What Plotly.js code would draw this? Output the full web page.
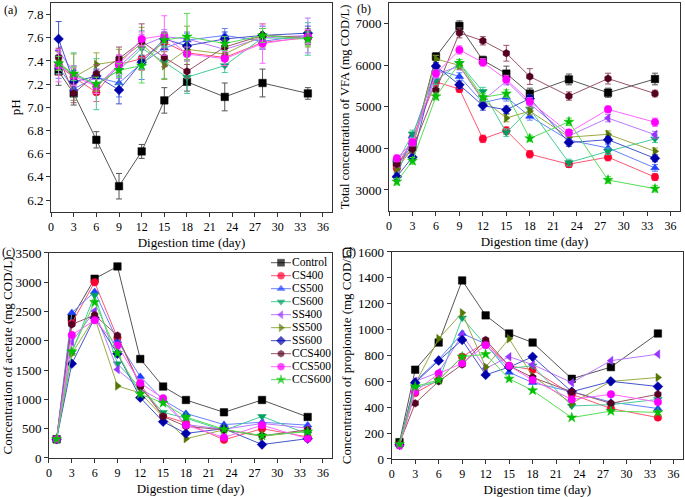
<!DOCTYPE html>
<html><head><meta charset="utf-8">
<script src="https://cdn.plot.ly/plotly-3.0.1.min.js"></script>
<style>html,body{margin:0;padding:0;background:#fff}#chart{width:685px;height:497px}</style>
</head><body><div id="chart"></div>
<script>
const days = [1, 3, 6, 9, 12, 15, 18, 23, 28, 34];
const seriesNames = ['Control','CS400','CS500','CS600','SS400','SS500','SS600','CCS400','CCS500','CCS600'];
const markerColors = ['#000000','#ff0033','#2040ff','#00a060','#9933ff','#557700','#0000aa','#550022','#ff00ff','#00c000'];
const lineColors = ['#555555','#ff5577','#6680ff','#44cc99','#bb77ff','#99aa44','#4455cc','#995566','#ff66ff','#55dd55'];
const markerSymbols = ['square','circle','triangle-up','triangle-down','triangle-left','triangle-right','diamond','hexagon','circle','star'];

// (a) pH
const phControl = [7.31,7.12,6.72,6.32,6.62,7.06,7.22,7.09,7.21,7.12];
const phCS400   = [7.36,7.26,7.13,7.37,7.42,7.56,7.47,7.43,7.56,7.60];
const phCS500   = [7.35,7.16,7.26,7.21,7.38,7.51,7.58,7.62,7.57,7.62];
const phCS600   = [7.37,7.28,7.20,7.32,7.51,7.39,7.26,7.36,7.60,7.59];
const phSS400   = [7.49,7.30,7.18,7.35,7.53,7.61,7.59,7.50,7.60,7.62];
const phSS500   = [7.40,7.26,7.37,7.40,7.55,7.36,7.50,7.46,7.62,7.60];
const phSS600   = [7.59,7.22,7.27,7.15,7.39,7.59,7.53,7.59,7.62,7.64];
const phCCS400  = [7.43,7.12,7.29,7.42,7.57,7.43,7.31,7.52,7.62,7.60];
const phCCS500  = [7.36,7.27,7.18,7.37,7.59,7.62,7.46,7.42,7.55,7.61];
const phCCS600  = [7.38,7.29,7.20,7.32,7.36,7.58,7.61,7.55,7.62,7.59];
const phErrControl = [0.12,0.10,0.07,0.11,0.06,0.11,0.08,0.12,0.12,0.05];
const phErrCS400   = [0.08,0.08,0.08,0.08,0.10,0.08,0.06,0.08,0.06,0.06];
const phErrCS500   = [0.10,0.10,0.06,0.12,0.14,0.08,0.06,0.06,0.06,0.06];
const phErrCS600   = [0.08,0.19,0.22,0.12,0.15,0.14,0.14,0.06,0.10,0.14];
const phErrSS400   = [0.10,0.06,0.06,0.10,0.10,0.06,0.06,0.06,0.10,0.15];
const phErrSS500   = [0.08,0.20,0.10,0.10,0.14,0.12,0.20,0.06,0.10,0.08];
const phErrSS600   = [0.15,0.10,0.06,0.12,0.06,0.06,0.06,0.06,0.06,0.06];
const phErrCCS400  = [0.08,0.08,0.08,0.10,0.15,0.08,0.06,0.06,0.06,0.06];
const phErrCCS500  = [0.14,0.08,0.06,0.08,0.06,0.17,0.06,0.06,0.17,0.06];
const phErrCCS600  = [0.06,0.06,0.06,0.06,0.15,0.06,0.20,0.06,0.06,0.06];

// (b) Total VFA
const vfaControl = [3650,4040,6210,6950,6120,5800,5320,5660,5340,5670];
const vfaCS400   = [3520,4250,5600,5430,4230,4430,3860,3620,3790,3310];
const vfaCS500   = [3350,4300,5900,5730,5100,5230,4770,4200,4010,3530];
const vfaCS600   = [3650,4350,5630,6050,5370,4380,4950,3660,3930,4230];
const vfaSS400   = [3700,4100,5780,5980,5150,5620,5070,4300,4730,4330];
const vfaSS500   = [3500,4000,6150,6000,5180,4730,4900,4270,4340,3930];
const vfaSS600   = [3320,3790,5980,5530,5030,4930,5200,4140,4210,3760];
const vfaCCS400  = [3620,3980,5400,6780,6590,6290,5730,5260,5680,5320];
const vfaCCS500  = [3760,4150,5800,6370,6070,5660,5130,4380,4940,4630];
const vfaCCS600  = [3200,3700,5250,6050,5230,5320,4240,4640,3240,3030];
const vfaErrControl = [80,100,90,120,100,180,130,130,110,140];
const vfaErrCS400   = [80,90,90,80,90,90,90,80,90,80];
const vfaErrCS500   = [80,90,90,90,90,90,90,80,90,80];
const vfaErrCS600   = [80,90,90,90,100,90,90,80,80,90];
const vfaErrSS400   = [80,90,90,90,90,90,90,80,90,80];
const vfaErrSS500   = [80,90,90,90,90,90,90,80,80,80];
const vfaErrSS600   = [80,90,90,90,110,90,90,90,80,80];
const vfaErrCCS400  = [80,90,90,120,100,190,190,100,130,80];
const vfaErrCCS500  = [80,90,90,100,90,100,90,80,80,100];
const vfaErrCCS600  = [80,80,80,90,90,90,80,90,80,80];

// (c) Acetate
const acControl = [320,2390,3060,3270,1690,1220,990,780,990,700];
const acCS400   = [320,2300,3000,2050,1260,720,600,310,500,360];
const acCS500   = [320,2480,2840,2000,1390,990,760,570,610,560];
const acCS600   = [320,1800,2780,1610,1200,780,680,470,710,410];
const acSS400   = [320,1980,2510,1510,1180,960,570,490,590,510];
const acSS500   = [320,1780,2400,1230,1110,700,330,480,370,460];
const acSS600   = [320,1610,2390,1780,1030,620,420,500,230,330];
const acCCS400  = [320,2280,2440,2090,1220,710,540,480,380,480];
const acCCS500  = [320,2100,2350,1920,1280,1020,560,350,560,330];
const acCCS600  = [320,1820,2660,1790,1090,940,700,490,380,450];

// (d) Propionate
const prControl = [130,690,900,1380,1110,970,900,620,710,970];
const prCS400   = [110,510,610,790,900,720,690,500,390,320];
const prCS500   = [110,600,770,970,890,670,590,520,440,390];
const prCS600   = [110,550,600,1090,880,700,720,410,420,460];
const prSS400   = [105,600,670,960,700,790,730,590,760,810];
const prSS500   = [110,580,930,1130,710,930,640,430,600,630];
const prSS600   = [110,590,760,920,650,710,790,520,600,560];
const prCCS400  = [120,430,600,730,920,720,630,520,430,500];
const prCCS500  = [105,520,660,740,880,720,610,460,500,440];
const prCCS600  = [115,560,610,790,810,620,530,320,370,360];

const phData  = [phControl,phCS400,phCS500,phCS600,phSS400,phSS500,phSS600,phCCS400,phCCS500,phCCS600];
const phErr   = [phErrControl,phErrCS400,phErrCS500,phErrCS600,phErrSS400,phErrSS500,phErrSS600,phErrCCS400,phErrCCS500,phErrCCS600];
const vfaData = [vfaControl,vfaCS400,vfaCS500,vfaCS600,vfaSS400,vfaSS500,vfaSS600,vfaCCS400,vfaCCS500,vfaCCS600];
const vfaErr  = [vfaErrControl,vfaErrCS400,vfaErrCS500,vfaErrCS600,vfaErrSS400,vfaErrSS500,vfaErrSS600,vfaErrCCS400,vfaErrCCS500,vfaErrCCS600];
const acData  = [acControl,acCS400,acCS500,acCS600,acSS400,acSS500,acSS600,acCCS400,acCCS500,acCCS600];
const prData  = [prControl,prCS400,prCS500,prCS600,prSS400,prSS500,prSS600,prCCS400,prCCS500,prCCS600];

const F = 'Liberation Serif, Times New Roman, serif';
const traces = [];
function addPanel(data, errs, xa, ya) {
  data.forEach((ys, i) => {
    const t = {
      x: days, y: ys, type: 'scatter', mode: 'lines+markers',
      name: seriesNames[i], xaxis: xa, yaxis: ya, showlegend: false,
      line: {color: lineColors[i], width: 1},
      marker: {symbol: markerSymbols[i], color: markerColors[i], size: 7.5,
               line: {color: markerColors[i], width: 0.5}},
      cliponaxis: false
    };
    if (errs) t.error_y = {type: 'data', array: errs[i], visible: true,
      color: lineColors[i], thickness: 1, width: 3};
    traces.push(t);
  });
}
addPanel(phData, phErr, 'x', 'y');
addPanel(vfaData, vfaErr, 'x2', 'y2');
addPanel(acData, null, 'x3', 'y3');
addPanel(prData, null, 'x4', 'y4');

// Compact legend drawn on its own hidden axes (rows indexed by series order)
seriesNames.forEach((nm, i) => {
  traces.push({
    x: [0, 0.5, 1], y: [i, i, i], type: 'scatter', mode: 'lines+markers',
    xaxis: 'x5', yaxis: 'y5', showlegend: false, hoverinfo: 'skip',
    line: {color: lineColors[i], width: 1},
    marker: {symbol: markerSymbols[i], color: markerColors[i], size: [0, 7, 0],
             line: {color: markerColors[i], width: 0.5}},
    cliponaxis: false
  });
});
traces.push({
  x: seriesNames.map(() => 1.05), y: seriesNames.map((_, i) => i), text: seriesNames,
  type: 'scatter', mode: 'text', textposition: 'middle right',
  textfont: {family: F, size: 11.5, color: '#000'},
  xaxis: 'x5', yaxis: 'y5', showlegend: false, hoverinfo: 'skip', cliponaxis: false
});

function xax(dom, anchor, standoff) {
  return {domain: dom, anchor: anchor, range: [0, 37.2], tick0: 0, dtick: 3,
    showline: true, mirror: true, linecolor: '#333', linewidth: 1,
    ticks: 'outside', ticklen: 4, tickcolor: '#333', showgrid: false, zeroline: false,
    tickfont: {family: F, size: 12, color: '#000'},
    title: {text: 'Digestion time (day)', font: {family: F, size: 13, color: '#000'}, standoff: standoff}};
}
function yax(dom, anchor, range, dtick, tick0, title, fmt, tsize) {
  const a = {domain: dom, anchor: anchor, range: range, tick0: tick0, dtick: dtick,
    showline: true, mirror: true, linecolor: '#333', linewidth: 1,
    ticks: 'outside', ticklen: 4, tickcolor: '#333', showgrid: false, zeroline: false,
    tickfont: {family: F, size: 13, color: '#000'},
    title: {text: title, font: {family: F, size: tsize || 13, color: '#000'}, standoff: 3}};
  if (fmt) a.tickformat = fmt;
  return a;
}
const layout = {
  width: 685, height: 497, margin: {l: 0, r: 0, t: 0, b: 0},
  paper_bgcolor: '#fff', plot_bgcolor: '#fff', font: {family: F, color: '#000'},
  showlegend: false,
  xaxis:  xax([0.0745, 0.4847], 'y', 4),
  yaxis:  yax([0.574, 0.994], 'x', [6.1, 7.9], 0.2, 6.2, 'pH', '.1f'),
  xaxis2: xax([0.5679, 0.9927], 'y2', 4),
  yaxis2: yax([0.576, 0.994], 'x2', [2500, 7500], 1000, 3000, 'Total concentration of VFA (mg COD/L)', null, 12.5),
  xaxis3: xax([0.0715, 0.4847], 'y3', 4),
  yaxis3: yax([0.0785, 0.491], 'x3', [0, 3500], 500, 0, 'Concentration of acetate (mg COD/L)'),
  xaxis4: xax([0.5718, 0.997], 'y4', 4),
  yaxis4: yax([0.0765, 0.493], 'x4', [0, 1600], 200, 0, 'Concentration of propionate (mg COD/L)'),
  xaxis5: {domain: [271/685, 331/685], anchor: 'y5', range: [0, 3], visible: false, fixedrange: true},
  yaxis5: {domain: [0.223, 0.4845], anchor: 'x5', range: [9.5, -0.5], visible: false, fixedrange: true},
  annotations: [
    {text: '(a)', x: 2/685, y: 1 - 1/497, xref: 'paper', yref: 'paper', xanchor: 'left', yanchor: 'top', showarrow: false, font: {family: F, size: 12}},
    {text: '(b)', x: 355/685, y: 1, xref: 'paper', yref: 'paper', xanchor: 'left', yanchor: 'top', showarrow: false, font: {family: F, size: 12}},
    {text: '(c)', x: 0/685, y: 1 - 243/497, xref: 'paper', yref: 'paper', xanchor: 'left', yanchor: 'top', showarrow: false, font: {family: F, size: 12}},
    {text: '(d)', x: 340/685, y: 1 - 243/497, xref: 'paper', yref: 'paper', xanchor: 'left', yanchor: 'top', showarrow: false, font: {family: F, size: 12}}
  ]
};
Plotly.newPlot('chart', traces, layout, {displayModeBar: false, staticPlot: true});
</script></body></html>
